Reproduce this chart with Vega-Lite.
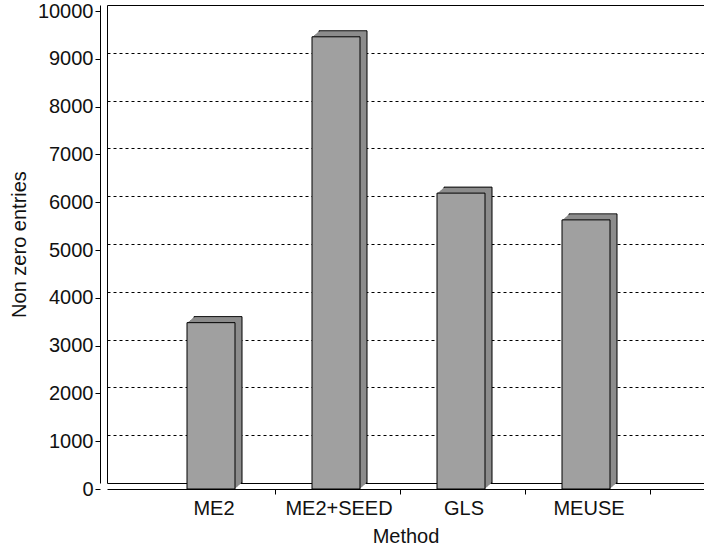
{
  "$schema": "https://vega.github.io/schema/vega-lite/v6.json",
  "width": 597,
  "height": 478,
  "autosize": "none",
  "padding": {"left": 107, "top": 5, "right": 0, "bottom": 65},
  "config": {
    "font": "Liberation Sans",
    "view": {"stroke": "#000", "strokeWidth": 1}
  },
  "data": {
    "values": [
      {"Method": "ME2", "entries": 3480},
      {"Method": "ME2+SEED", "entries": 9460},
      {"Method": "GLS", "entries": 6190},
      {"Method": "MEUSE", "entries": 5630}
    ]
  },
  "encoding": {
    "x": {
      "field": "Method",
      "type": "nominal",
      "sort": null,
      "scale": {"paddingInner": 0.616, "paddingOuter": 0.696},
      "axis": {
        "title": "Method",
        "orient": "bottom",
        "offset": 6,
        "bandPosition": 1.708,
        "labelOffset": -4,
        "labelAngle": 0,
        "tickSize": 5,
        "tickColor": "#000",
        "domainColor": "#000",
        "labelFontSize": 20,
        "titleFontSize": 20,
        "titleFontWeight": "normal",
        "labelPadding": 4,
        "titlePadding": 8,
        "labelColor": "#111",
        "titleColor": "#111"
      }
    }
  },
  "layer": [
    {
      "mark": {"type": "bar", "fill": "#8c8c8c", "stroke": "#000", "strokeWidth": 1},
      "encoding": {
        "y": {
          "field": "entries",
          "type": "quantitative",
          "scale": {"domain": [0, 10000]},
          "axis": {
            "orient": "left",
            "grid": true,
            "gridDash": [3, 3],
            "gridColor": "#000",
            "gridOpacity": 1,
            "domain": false,
            "ticks": false,
            "labels": false,
            "title": null,
            "values": [1000, 2000, 3000, 4000, 5000, 6000, 7000, 8000, 9000]
          }
        }
      }
    },
    {"mark": {"type": "bar", "fill": "#8c8c8c", "xOffset": -1, "yOffset": 0.86},
     "encoding": {"y": {"field": "entries", "type": "quantitative", "axis": null}}},
    {"mark": {"type": "bar", "fill": "#8c8c8c", "xOffset": -2, "yOffset": 1.71},
     "encoding": {"y": {"field": "entries", "type": "quantitative", "axis": null}}},
    {"mark": {"type": "bar", "fill": "#8c8c8c", "xOffset": -3, "yOffset": 2.57},
     "encoding": {"y": {"field": "entries", "type": "quantitative", "axis": null}}},
    {"mark": {"type": "bar", "fill": "#8c8c8c", "xOffset": -4, "yOffset": 3.43},
     "encoding": {"y": {"field": "entries", "type": "quantitative", "axis": null}}},
    {"mark": {"type": "bar", "fill": "#8c8c8c", "xOffset": -5, "yOffset": 4.29},
     "encoding": {"y": {"field": "entries", "type": "quantitative", "axis": null}}},
    {"mark": {"type": "bar", "fill": "#8c8c8c", "xOffset": -6, "yOffset": 5.14},
     "encoding": {"y": {"field": "entries", "type": "quantitative", "axis": null}}},
    {
      "mark": {"type": "bar", "fill": "#a0a0a0", "stroke": "#000", "strokeWidth": 1, "xOffset": -7, "yOffset": 6},
      "encoding": {
        "y": {
          "field": "entries",
          "type": "quantitative",
          "axis": {
            "orient": "left",
            "offset": 7,
            "tickOffset": 6,
            "grid": false,
            "format": "d",
            "values": [0, 1000, 2000, 3000, 4000, 5000, 6000, 7000, 8000, 9000, 10000],
            "tickSize": 5,
            "tickColor": "#000",
            "domainColor": "#000",
            "labelPadding": 2,
            "labelFontSize": 20,
            "labelColor": "#111",
            "title": "Non zero entries",
            "titleFontSize": 20,
            "titleFontWeight": "normal",
            "titleColor": "#111",
            "titlePadding": 8
          }
        }
      }
    }
  ],
  "resolve": {"axis": {"y": "independent"}}
}
